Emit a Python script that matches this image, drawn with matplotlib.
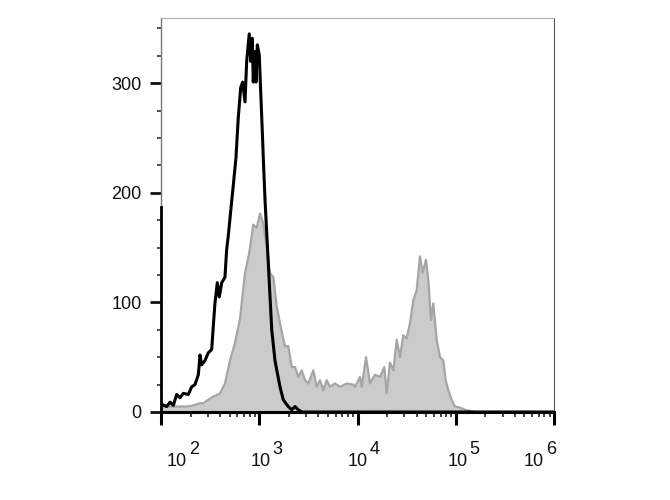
import matplotlib
matplotlib.use("Agg")
import matplotlib.pyplot as plt
import matplotlib.transforms as mtransforms
import numpy as np

plt.rcParams['font.family'] = ['Liberation Sans', 'DejaVu Sans']

# unstained control (black line): log10 fluorescence, cell count
ctrl_log = [2.007, 2.058, 2.092, 2.125, 2.160, 2.193, 2.227, 2.278, 2.312, 2.346,
            2.380, 2.397, 2.414, 2.448, 2.481, 2.516, 2.532, 2.549, 2.573, 2.593,
            2.618, 2.651, 2.668, 2.685, 2.719, 2.736, 2.763, 2.786, 2.811, 2.831,
            2.855, 2.872, 2.898, 2.913, 2.929, 2.939, 2.957, 2.967, 2.980, 3.000,
            3.015, 3.035, 3.041, 3.059, 3.092, 3.127, 3.160, 3.211, 3.245, 3.295,
            3.330, 3.364, 3.397, 3.435, 6.0]
ctrl_count = [7, 5, 9, 6, 16, 13, 17, 16, 23, 25,
              34, 52, 43, 47, 54, 57, 78, 99, 118, 105,
              118, 123, 148, 161, 192, 207, 232, 268, 296, 301,
              283, 320, 345, 320, 341, 301, 329, 301, 335, 326,
              292, 247, 232, 193, 136, 75, 47, 23, 11, 5,
              2, 5, 2, 0, 0]

# stained sample (grey filled)
stain_log = [2.007, 2.092, 2.193, 2.261, 2.329, 2.397, 2.431, 2.478, 2.532, 2.601,
             2.651, 2.702, 2.753, 2.804, 2.855, 2.898, 2.939, 2.973, 3.008, 3.041,
             3.076, 3.109, 3.143, 3.177, 3.211, 3.239, 3.262, 3.296, 3.331, 3.364,
             3.398, 3.432, 3.466, 3.500, 3.551, 3.585, 3.618, 3.652, 3.686, 3.720,
             3.771, 3.822, 3.890, 3.957, 3.975, 4.025, 4.043, 4.087, 4.127, 4.178,
             4.229, 4.273, 4.297, 4.331, 4.365, 4.399, 4.433, 4.466, 4.500, 4.534,
             4.568, 4.602, 4.636, 4.663, 4.697, 4.721, 4.748, 4.771, 4.806, 4.840,
             4.873, 4.898, 4.924, 4.959, 4.992, 5.043, 5.094, 5.145, 5.196]
stain_count = [5, 5, 5, 5, 6, 8, 8, 11, 14, 17,
               26, 47, 63, 85, 127, 145, 171, 168, 181, 172,
               151, 127, 123, 97, 81, 69, 60, 60, 41, 41,
               32, 38, 29, 26, 38, 23, 29, 20, 29, 23,
               26, 23, 26, 25, 23, 32, 23, 50, 26, 34,
               32, 41, 17, 45, 38, 66, 50, 70, 67, 81,
               102, 111, 142, 127, 139, 120, 84, 99, 66, 50,
               47, 29, 20, 11, 5, 4, 2, 1, 0]

x_exponents = [2, 3, 4, 5, 6]
y_major = [0, 100, 200, 300]

ctrl_x = 10 ** np.array(ctrl_log)
stain_x = 10 ** np.array(stain_log)

fig = plt.figure(figsize=(6.7, 5), dpi=100)
ax = fig.add_axes([161 / 670, 88 / 500, 393 / 670, 394 / 500])

ax.fill_between(stain_x, stain_count, 0, color='#cbcbcb', lw=0, zorder=1)
ax.plot(stain_x, stain_count, color='#a5a5a5', lw=1.6, zorder=2)
ax.plot(ctrl_x, ctrl_count, color='black', lw=2.2, zorder=3)

ax.set_xscale('log')
ax.set_xlim(1e2, 1e6)
ax.set_ylim(0, 359.5)

# spines
ax.spines['top'].set_color('#b0b0b0')
ax.spines['top'].set_linewidth(0.8)
ax.spines['right'].set_color('#555555')
ax.spines['right'].set_linewidth(0.8)
ax.spines['left'].set_color('#777777')
ax.spines['left'].set_linewidth(1.0)
ax.spines['bottom'].set_color('black')
ax.spines['bottom'].set_linewidth(2.2)
ax.plot([1e2, 1e2], [0, 187], color='black', lw=2.0, clip_on=False, zorder=4)

# y ticks
ax.set_yticks(y_major)
ax.set_yticks(np.arange(25, 360, 25), minor=True)
ax.tick_params(axis='y', which='major', direction='out', length=8, width=2,
               color='#111111', labelsize=13, labelcolor='#111111', pad=6)
ax.tick_params(axis='y', which='minor', direction='out', length=3, width=1.2,
               color='#333333')

# x ticks
ax.set_xticks([10.0 ** e for e in x_exponents])
ax.xaxis.set_minor_locator(matplotlib.ticker.LogLocator(base=10, subs=np.arange(2, 10)))
ax.xaxis.set_minor_formatter(matplotlib.ticker.NullFormatter())
ax.set_xticklabels([])
ax.tick_params(axis='x', which='major', direction='out', length=9, width=2.2,
               color='black')
ax.tick_params(axis='x', which='minor', direction='out', length=3.5, width=1.2,
               color='#222222')

# x tick labels drawn as "10" + full-size raised exponent
label_shift = [26, 11, 10, 12, -10]
trans = mtransforms.blended_transform_factory(ax.transData, ax.transAxes)
for e, dx in zip(x_exponents, label_shift):
    t = mtransforms.offset_copy(trans, fig=fig, x=dx, y=-54, units='dots')
    ax.text(10.0 ** e, 0, '10', transform=t, ha='right', va='baseline',
            fontsize=13, color='#111111')
    t2 = mtransforms.offset_copy(trans, fig=fig, x=dx + 2, y=-42, units='dots')
    ax.text(10.0 ** e, 0, str(e), transform=t2, ha='left', va='baseline',
            fontsize=13, color='#111111')

fig.savefig('out.png', dpi=100)
